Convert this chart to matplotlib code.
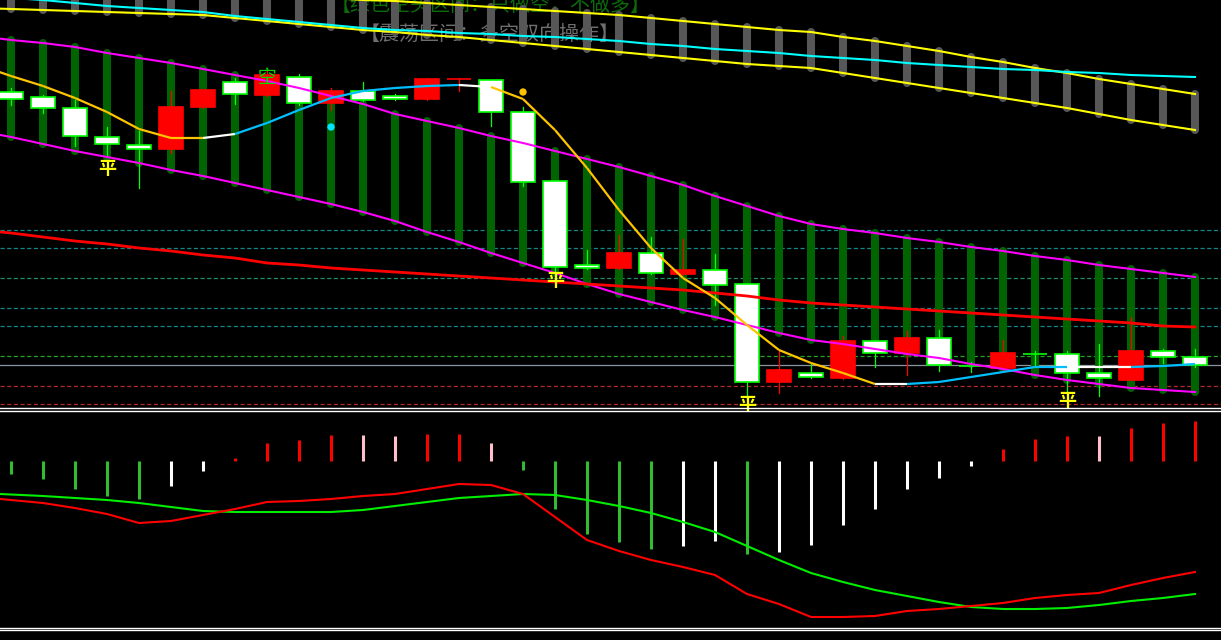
import numpy as np
import matplotlib
matplotlib.use('Agg')
import matplotlib.pyplot as plt
from matplotlib.patches import Rectangle
from matplotlib.collections import LineCollection
from matplotlib.lines import Line2D

plt.rcParams['font.family'] = ['Noto Sans CJK SC', 'DejaVu Sans']
plt.rcParams['lines.scale_dashes'] = False

# K线 (38 根)
opens = [50.8, 50.3, 49.2, 46.3, 45.5, 45.1, 49.3, 51.8, 50.5, 52.3, 49.7, 50.9, 50.4, 50.1, 52.1, 52.0, 48.8, 41.9, 33.5,
         33.2, 34.7, 32.6, 33.0, 31.6, 21.8, 22.7, 22.2, 25.9, 24.7, 26.2, 23.45, 23.2, 24.65, 24.6, 22.7, 22.0, 24.9, 24.3]
closes = [50.1, 49.2, 46.4, 45.6, 45.1, 49.3, 51.0, 50.6, 52.5, 49.7, 50.9, 50.0, 50.1, 52.1, 52.1, 48.8, 41.8, 33.3, 33.2,
          34.7, 32.7, 33.0, 31.5, 21.8, 23.0, 22.3, 25.9, 24.7, 26.2, 23.5, 23.4, 24.7, 24.6, 22.7, 22.2, 24.9, 24.3, 23.5]
highs = [51.2, 50.5, 50.0, 47.3, 46.9, 50.9, 51.1, 52.2, 53.0, 52.6, 51.2, 51.8, 50.6, 52.2, 52.2, 52.0, 49.3, 41.9, 35.0,
         36.5, 36.3, 36.1, 34.6, 31.6, 24.9, 23.6, 26.4, 26.0, 26.9, 27.0, 23.8, 26.0, 24.9, 24.9, 25.6, 28.3, 25.1, 25.1]
lows = [49.5, 48.7, 45.4, 44.3, 41.2, 44.7, 49.2, 49.6, 50.4, 49.5, 49.0, 49.9, 50.0, 50.0, 50.9, 47.4, 41.4, 32.8, 33.1,
        33.1, 32.6, 32.5, 29.5, 20.2, 20.7, 22.2, 22.1, 23.3, 22.5, 22.9, 22.8, 22.9, 23.4, 20.6, 20.4, 22.0, 23.7, 23.3]

# 通道线 (索引 -1 .. 37, 39 个值)
mag_hi = [56.4, 56.0, 55.7, 55.3, 54.7, 54.2, 53.7, 53.1, 52.5, 51.9, 51.2, 50.4, 49.6, 48.6, 47.9, 47.2, 46.4, 45.7, 44.9,
          44.1, 43.3, 42.4, 41.5, 40.4, 39.4, 38.4, 37.6, 37.1, 36.7, 36.2, 35.8, 35.3, 34.9, 34.4, 34.0, 33.5, 33.1, 32.7, 32.3]
mag_lo = [46.9, 46.3, 45.6, 44.9, 44.3, 43.7, 43.0, 42.4, 41.7, 41.0, 40.3, 39.6, 38.8, 37.9, 36.8, 35.8, 34.7, 33.7, 32.7,
          31.6, 30.6, 29.8, 29.0, 28.3, 27.5, 26.7, 26.0, 25.6, 25.1, 24.6, 24.2, 23.6, 23.1, 22.5, 22.0, 21.6, 21.2, 21.0, 20.8]
yel_hi = [62.2, 62.0, 61.8, 61.6, 61.4, 61.2, 61.0, 60.8, 60.7, 60.5, 60.4, 60.2, 60.0, 59.9, 59.7, 59.5, 59.3, 59.1, 58.9,
          58.7, 58.5, 58.2, 57.9, 57.6, 57.3, 57.0, 56.8, 56.3, 55.9, 55.4, 54.9, 54.3, 53.8, 53.2, 52.7, 52.1, 51.6, 51.1, 50.6]
yel_lo = [59.2, 59.1, 59.0, 58.9, 58.8, 58.7, 58.6, 58.5, 58.2, 57.9, 57.6, 57.3, 57.0, 56.8, 56.5, 56.3, 56.0, 55.7, 55.4,
          55.1, 54.8, 54.5, 54.2, 53.9, 53.6, 53.4, 53.2, 52.7, 52.2, 51.7, 51.2, 50.7, 50.2, 49.7, 49.2, 48.6, 48.0, 47.5, 47.0]
cyan_line = [60.6, 60.2, 60.0, 59.7, 59.4, 59.2, 59.0, 58.8, 58.4, 58.1, 57.8, 57.5, 57.2, 57.0, 56.9, 56.7, 56.6, 56.4, 56.3,
             56.1, 55.9, 55.6, 55.4, 55.1, 54.9, 54.7, 54.4, 54.2, 54.0, 53.7, 53.5, 53.3, 53.1, 53.0, 52.8, 52.7, 52.5, 52.4, 52.3]
red_ma = [37.0, 36.7, 36.3, 35.9, 35.6, 35.2, 34.9, 34.5, 34.2, 33.7, 33.5, 33.2, 33.0, 32.8, 32.6, 32.4, 32.2, 32.0, 31.8,
          31.6, 31.4, 31.2, 31.0, 30.7, 30.4, 30.0, 29.7, 29.5, 29.3, 29.1, 28.9, 28.7, 28.5, 28.3, 28.1, 27.9, 27.7, 27.4, 27.3]
trend = [53.5, 52.4, 51.4, 50.2, 48.8, 47.1, 46.2, 46.2, 46.6, 47.7, 49.0, 50.2, 50.9, 51.2, 51.4, 51.5, 51.3, 50.1, 47.0,
         43.2, 39.0, 35.2, 32.2, 30.2, 27.5, 25.0, 23.7, 22.7, 21.6, 21.6, 21.8, 22.3, 22.8, 23.3, 23.3, 23.3, 23.3, 23.4, 23.6]
# 每段颜色: o=金黄 w=白 c=天蓝
trend_state = 'ooooooo' + 'w' + 'ccccccc' + 'w' + 'oooooooooooo' + 'w' + 'ccccc' + 'ww' + 'cc'

# 水平参考线
levels = [37.0, 35.2, 32.2, 29.2, 27.4, 24.4, 23.5, 21.4, 19.6]
level_colors = ['#138787', '#138787', '#1f8f6f', '#138787', '#138787', '#22a322', '#8a94a0', '#b22a2a', '#b22a2a']

# 信号
ping_idx = [3, 17, 23, 33]
ping_price = [43.2, 31.9, 19.5, 19.9]
kong_idx = [8]
kong_price = [52.2]
dot_idx = [16, 10]
dot_price = [50.8, 47.3]
dot_colors = ['#ffc400', '#00e5ff']

# 副图
hist = [-1.3, -1.8, -2.8, -3.5, -3.8, -2.5, -1.0, 0.3, 1.8, 2.1, 2.6, 2.6, 2.5, 2.7, 2.7, 1.8, -0.9, -4.8, -7.3,
        -8.1, -8.8, -8.5, -8.0, -9.3, -9.1, -8.4, -6.4, -4.8, -2.8, -1.7, -0.5, 1.2, 2.2, 2.5, 2.5, 3.3, 3.8, 4.0]
hist_state = 'gggggwwrrrrpprrpgggggwwgwwwwwwwrrrprrr'
osc_green = [-3.2, -3.35, -3.5, -3.7, -3.9, -4.2, -4.6, -5.0, -5.1, -5.1, -5.1, -5.1, -4.9, -4.5, -4.1, -3.7, -3.5, -3.3, -3.4,
             -3.9, -4.5, -5.2, -6.1, -7.1, -8.5, -9.9, -11.2, -12.1, -12.9, -13.5, -14.1, -14.6, -14.8, -14.8, -14.7, -14.4,
             -14.0, -13.7, -13.3]
osc_red = [-3.6, -3.9, -4.2, -4.7, -5.3, -6.2, -6.0, -5.4, -4.8, -4.1, -4.0, -3.8, -3.5, -3.3, -2.8, -2.3, -2.4, -3.3, -5.6,
           -7.9, -9.0, -9.9, -10.6, -11.4, -13.3, -14.3, -15.6, -15.6, -15.5, -15.0, -14.8, -14.5, -14.2, -13.7, -13.4, -13.2,
           -12.4, -11.7, -11.1]

TITLE1 = '【绿色空头区间：只做空，不做多】'
TITLE2 = '【震荡区间：多空双向操作】'


def draw_chart():
    W, H = 1221, 640
    fig = plt.figure(figsize=(W / 100, H / 100), dpi=100, facecolor='black')
    ax = fig.add_axes([0, 1 - 407 / H, 1, 407 / H])
    sub = fig.add_axes([0, 1 - 627 / H, 1, 216 / H])
    for a in (ax, sub):
        a.set_facecolor('black')
        a.set_xlim(-11 / 32, (W - 11) / 32)
        a.axis('off')
    ax.set_ylim(19.3, 60.0)
    sub.set_ylim(-16.6, 5.0)

    n = len(opens)
    xi = np.arange(n)
    xl = np.arange(-1, n)

    # 参考线
    for lv, c in zip(levels, level_colors):
        ls = '-' if c == '#8a94a0' else (0, (3.0, 1.8))
        ax.axhline(lv, color=c, lw=0.9, ls=ls, zorder=0.5)

    # 顶部文字
    ax.text(15.0, 59.5, TITLE1, color='#0b6b0b', fontsize=14.4, ha='center', va='center', zorder=1)
    ax.text(14.95, 56.6, TITLE2, color='#6e6e6e', fontsize=14.4, ha='center', va='center', zorder=1)

    # 通道柱
    for i in range(n):
        ax.plot([i, i], [yel_lo[i + 1], yel_hi[i + 1]], color='#575757', lw=5.8,
                solid_capstyle='round', zorder=1.5)
        ax.plot([i, i], [mag_lo[i + 1], mag_hi[i + 1]], color='#006400', lw=5.8,
                solid_capstyle='round', zorder=1.5)

    # K线
    for i in range(n):
        o, c, h, l = opens[i], closes[i], highs[i], lows[i]
        up = c >= o
        col = '#ff0000' if up else '#00ff00'
        ax.plot([i, i], [l, h], color=col, lw=0.9, zorder=2.5)
        face = '#ff0000' if up else 'white'
        ax.add_patch(Rectangle((i - 0.37, min(o, c)), 0.74, abs(c - o), facecolor=face,
                               edgecolor=col, lw=1.2, zorder=3))

    # 均线 / 通道线
    ax.plot(xl, yel_hi, color='#ffff00', lw=1.5, zorder=4)
    ax.plot(xl, yel_lo, color='#ffff00', lw=1.5, zorder=4)
    ax.plot(xl, cyan_line, color='#00ffff', lw=1.5, zorder=4)
    ax.plot(xl, mag_hi, color='#ff00ff', lw=1.5, zorder=4)
    ax.plot(xl, mag_lo, color='#ff00ff', lw=1.5, zorder=4)
    ax.plot(xl, red_ma, color='#ff0000', lw=2.0, zorder=4)

    cmap = {'o': '#ffc400', 'w': 'white', 'c': '#00bfff'}
    pts = np.column_stack([xl, trend])
    segs = [pts[k:k + 2] for k in range(len(pts) - 1)]
    ax.add_collection(LineCollection(segs, colors=[cmap[s] for s in trend_state], linewidths=1.6, zorder=5))

    ax.scatter(dot_idx, dot_price, s=28, c=dot_colors, zorder=6, linewidths=0)

    for i, p in zip(ping_idx, ping_price):
        ax.text(i, p, '平', color='#ffff00', fontsize=13, fontweight='bold', ha='center', va='center', zorder=6)
    for i, p in zip(kong_idx, kong_price):
        ax.text(i, p, '空', color='#00dd00', fontsize=13.5, ha='center', va='center', zorder=6)

    # 副图
    hcol = {'g': '#33bb33', 'w': 'white', 'r': '#ff0000', 'p': '#ffc0cb'}
    sub.vlines(xi, 0, hist, colors=[hcol[s] for s in hist_state], lw=2.2, zorder=2)
    sub.plot(xl, osc_green, color='#00ee00', lw=1.5, zorder=3)
    sub.plot(xl, osc_red, color='#ff0000', lw=1.5, zorder=3)

    # 分隔双线
    for yp in (408.3, 410.7, 627.7, 630.2):
        fig.add_artist(Line2D([0, 1], [1 - yp / H] * 2, color='white', lw=1.0, transform=fig.transFigure))

    fig.savefig('out.png', dpi=100, facecolor='black')
    plt.close(fig)


if __name__ == '__main__':
    draw_chart()
